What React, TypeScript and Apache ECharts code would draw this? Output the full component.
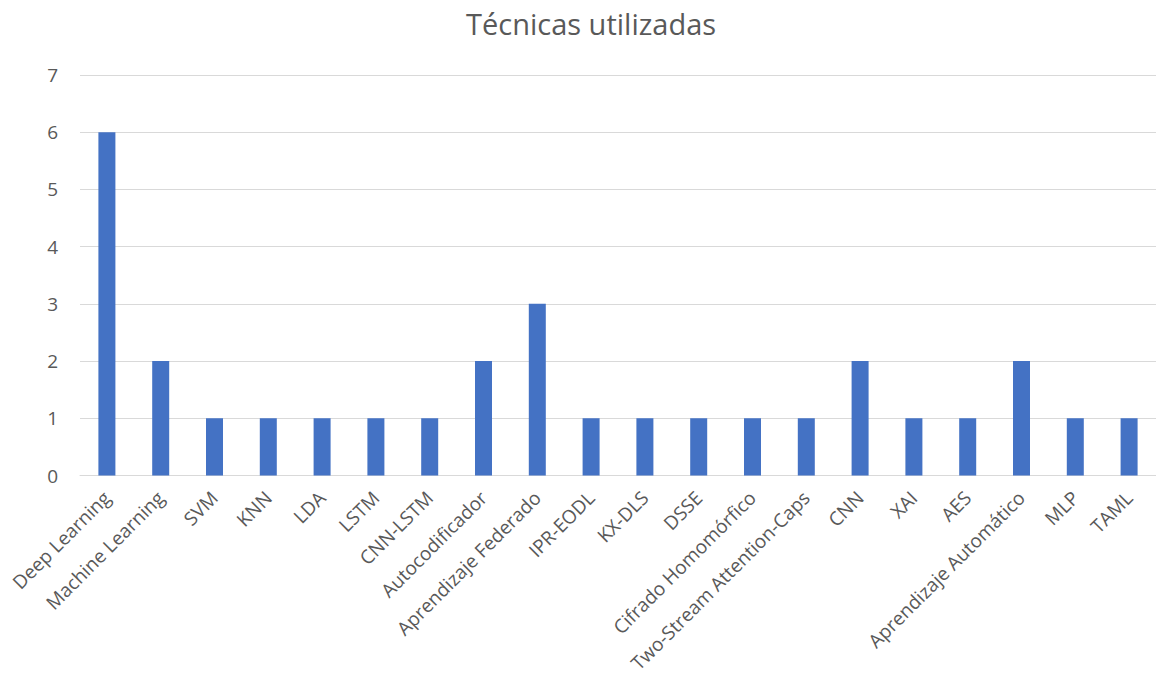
import React, { useEffect, useRef } from "react";
import * as echarts from "echarts";

const categories = [
  "Deep Learning",
  "Machine Learning",
  "SVM",
  "KNN",
  "LDA",
  "LSTM",
  "CNN-LSTM",
  "Autocodificador",
  "Aprendizaje Federado",
  "IPR-EODL",
  "KX-DLS",
  "DSSE",
  "Cifrado Homomórfico",
  "Two-Stream Attention-Caps",
  "CNN",
  "XAI",
  "AES",
  "Aprendizaje Automático",
  "MLP",
  "TAML",
];
const values = [6, 2, 1, 1, 1, 1, 1, 2, 3, 1, 1, 1, 1, 1, 2, 1, 1, 2, 1, 1];
const titleText = "Técnicas utilizadas";

export default function App() {
  const ref = useRef<HTMLDivElement>(null);
  useEffect(() => {
    if (!ref.current) return;
    const chart = echarts.init(ref.current, null, { renderer: "svg" });
    const font = "'Open Sans', 'Noto Sans', sans-serif";
    chart.setOption({
      animation: false,
      backgroundColor: "#ffffff",
      title: {
        text: titleText,
        left: 461,
        top: 4,
        textStyle: { color: "#595959", fontSize: 29, fontWeight: "normal", fontFamily: font },
      },
      grid: { left: 80, right: -1, top: 75, bottom: 202.5, containLabel: false },
      xAxis: {
        type: "category",
        data: categories,
        axisLine: { show: true, lineStyle: { color: "#d9d9d9", width: 1 } },
        axisTick: { show: false },
        axisLabel: {
          interval: 0,
          rotate: 45,
          color: "#595959",
          fontSize: 19,
          fontFamily: font,
          margin: 19,
        },
      },
      yAxis: {
        type: "value",
        min: 0,
        max: 7,
        interval: 1,
        axisLine: { show: false },
        axisTick: { show: false },
        splitLine: { lineStyle: { color: "#d9d9d9", width: 1 } },
        axisLabel: { color: "#595959", fontSize: 19, fontFamily: font, margin: 22 },
      },
      series: [
        {
          type: "bar",
          data: values,
          barWidth: 17,
          itemStyle: { color: "#4472c4" },
        },
      ],
    });
    return () => chart.dispose();
  }, []);
  return (
    <div
      ref={ref}
      style={{ position: "absolute", left: 0, top: 0, width: 1156, height: 678 }}
    />
  );
}
